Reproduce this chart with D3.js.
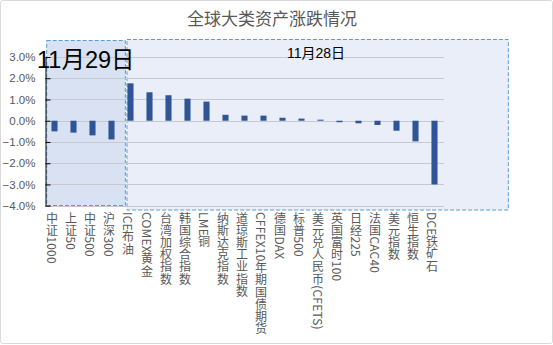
<!DOCTYPE html>
<html><head><meta charset="utf-8">
<script src="https://cdn.jsdelivr.net/npm/d3@7"></script>
<style>
html,body{margin:0;padding:0;background:#fff;}
svg{display:block;}
</style></head>
<body>
<svg id="c" width="553" height="345"></svg>
<script>
const categories = ["中证1000","上证50","中证500","沪深300","ICE布油","COMEX黄金","台湾加权指数","韩国综合指数","LME铜","纳斯达克指数","道琼斯工业指数","CFFEX10年期国债期货","德国DAX","标普500","美元兑人民币(CFETS)","英国富时100","日经225","法国CAC40","美元指数","恒生指数","DCE铁矿石"];
const values = [-0.50,-0.56,-0.69,-0.88,1.76,1.34,1.20,1.04,0.90,0.28,0.24,0.24,0.14,0.10,0.05,-0.07,-0.12,-0.20,-0.47,-0.97,-3.00];
const yTicks = [-4,-3,-2,-1,0,1,2,3];
const title = "全球大类资产涨跌情况";
const groupLabels = ["11月29日","11月28日"];
const groupSizes = [4,17];

const svg = d3.select("#c");
const cjk = "'Noto Sans CJK SC','Liberation Sans',sans-serif";
const latin = "'Liberation Sans','Noto Sans CJK SC',sans-serif";

svg.append("rect").attr("x",0.5).attr("y",0.5).attr("width",552).attr("height",343)
  .attr("rx",2).attr("fill","#fff").attr("stroke","#d9d9d9");

const x = d3.scaleBand().domain(categories).range([45,444]).paddingInner(0.68).paddingOuter(0.34);
const y = d3.scaleLinear().domain([-4,3]).range([205.7,57]);

// group boxes
const firstRight = categories[groupSizes[0]];
svg.append("rect").attr("x",x(firstRight)-0.5).attr("y",39.5)
  .attr("width",508.3-(x(firstRight)-0.5)).attr("height",210-39.5)
  .attr("fill","#e9eef8").attr("stroke","#5b9bd5").attr("stroke-dasharray","4,2");
svg.append("rect").attr("x",46.7).attr("y",40.5)
  .attr("width",x(firstRight)-2.1-46.7).attr("height",205.5-40.5)
  .attr("fill","#d9e2f3").attr("stroke","#5b9bd5").attr("stroke-dasharray","4,2");

// gridlines
svg.append("g").selectAll("line").data(yTicks).join("line")
  .attr("x1",45).attr("x2",444)
  .attr("y1",d=>Math.round(y(d))+0.5).attr("y2",d=>Math.round(y(d))+0.5)
  .attr("stroke","#c6c9d0").attr("stroke-width",1);

// bars
svg.append("g").selectAll("rect").data(values).join("rect")
  .attr("x",(d,i)=>x(categories[i]))
  .attr("width",x.bandwidth())
  .attr("y",d=>y(Math.max(0,d)))
  .attr("height",d=>Math.abs(y(d)-y(0)))
  .attr("fill","#2f5597");

// y axis
const ya = svg.append("g").attr("transform","translate(45.5,0)")
  .call(d3.axisLeft(y).tickValues(yTicks).tickSizeInner(-5).tickSizeOuter(0).tickPadding(10)
    .tickFormat(d=>d3.format(".1f")(d)+"%"));
ya.select(".domain").attr("stroke","#000");
ya.selectAll(".tick line").attr("stroke","#000");
ya.selectAll(".tick text").attr("fill","#595959").attr("font-size","11.5px").attr("font-family",latin);

// x labels
svg.append("g").selectAll("text").data(categories).join("text")
  .attr("x",d=>x(d)+x.bandwidth()/2-2.5)
  .attr("y",212)
  .attr("fill","#595959")
  .attr("font-size","12px")
  .attr("font-family",cjk)
  .attr("letter-spacing","0.2px")
  .style("writing-mode","vertical-rl")
  .style("text-orientation","mixed")
  .text(d=>d);

// title
svg.append("text").attr("x",272).attr("y",25).attr("text-anchor","middle")
  .attr("fill","#595959").attr("font-size","17px").attr("font-family",cjk).text(title);

// group labels
svg.append("text").attr("x",37).attr("y",68).attr("fill","#000")
  .attr("font-size","23.5px").attr("font-family",latin).text(groupLabels[0]);
svg.append("text").attr("x",316).attr("y",58).attr("text-anchor","middle").attr("fill","#000")
  .attr("font-size","14px").attr("font-family",latin).text(groupLabels[1]);
</script>
</body></html>
